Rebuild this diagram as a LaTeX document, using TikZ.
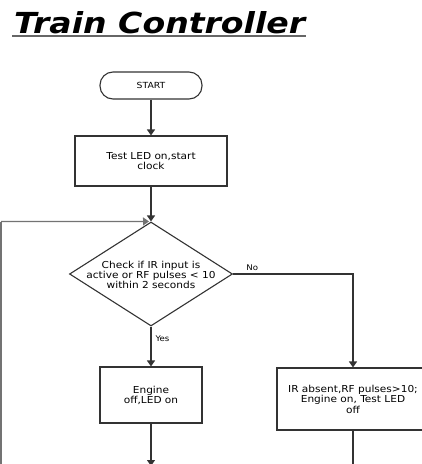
\documentclass[tikz,border=0pt]{standalone}
\usepackage{fontspec}
\setmainfont{DejaVu Sans}
\newfontfamily\bodyfont[FakeStretch=1.1]{DejaVu Sans}
\newfontfamily\titlefont{DejaVu Sans}
\usetikzlibrary{shapes.geometric,arrows.meta}
\begin{document}
\begin{tikzpicture}[x=1pt,y=-1pt,
  line/.style={draw=black!80,line width=1.2pt},
  arr/.style={line,-{Triangle[width=8pt,length=6pt]}},
  txt/.style={font=\bodyfont\fontsize{9.6}{10}\selectfont,text=black},
  box/.style={draw=black!80,line width=1.1pt,minimum width=152pt,align=center,txt,inner sep=2pt},
  lbl/.style={font=\bodyfont\fontsize{7.8}{9}\selectfont,text=black,inner sep=0pt}]
\useasboundingbox (0,0) rectangle (422,464);
\clip (0,0) rectangle (422,464);
\node[anchor=base west,inner sep=0pt,font=\titlefont\bfseries\itshape] (title) at (14,33) {\resizebox{291pt}{22pt}{Train Controller}};
\draw[draw=black!60,line width=1.5pt] (12,36) -- (306,36);
\node[box,rounded corners=13pt,minimum width=102pt,minimum height=27pt,font=\bodyfont\fontsize{8.4}{9}\selectfont] (start) at (151,85.5) {START};
\node[box,minimum height=50pt] (test) at (151,161) {Test LED on,start\\clock};
\node[diamond,draw=black!80,line width=1.1pt,minimum width=163pt,minimum height=104pt,inner sep=0pt] (dec) at (151,274) {};
\node[align=center,txt,inner sep=0pt] (dectext) at (151,275) {Check if IR input is\\active or RF pulses < 10\\within 2 seconds};
\node[box,minimum width=102pt,minimum height=56pt] (engoff) at (151,395) {Engine\\off,LED on};
\node[box,minimum height=62pt,font=\bodyfont\fontsize{9.6}{10.5}\selectfont] (engon) at (353,399) {IR absent,RF pulses>10;\\Engine on, Test LED\\off};
\coordinate (loopc) at (1,221.5);
\coordinate (loopb) at (1,470);
\coordinate (noc) at (353,274);
\coordinate (offb) at (151,466);
\coordinate (onb) at (353,470);
\draw[arr] (start) -- (test);
\draw[arr] (test) -- (dec.north);
\draw[line,draw=black!55] (loopb) -- (loopc);
\draw[arr,draw=black!55] (loopc) -- ([xshift=-2pt]dec.north);
\draw[arr] (dec.south) -- node[lbl,right=4pt,pos=0.3] (yes) {Yes} (engoff);
\draw[arr] (dec.east) -- node[lbl,above=3pt,pos=0.16] (no) {No} (noc) -- (engon);
\draw[arr] (engoff) -- (offb);
\draw[line] (engon) -- (onb);
\end{tikzpicture}
\end{document}
